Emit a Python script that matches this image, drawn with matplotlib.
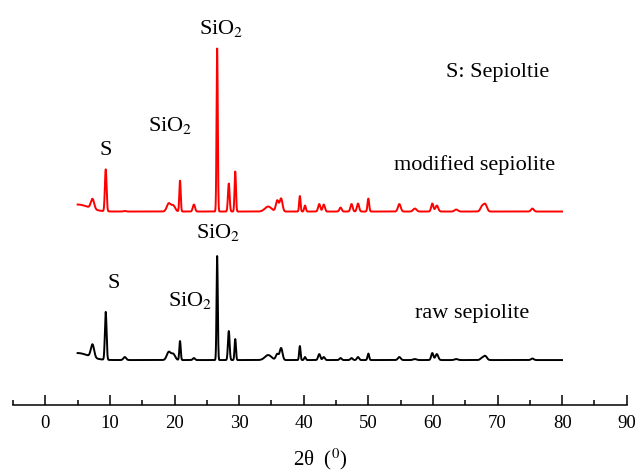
#!/usr/bin/env python3

import numpy as np
import matplotlib

matplotlib.use("Agg")
import matplotlib.pyplot as plt

plt.rcParams["font.family"] = ["Liberation Serif", "DejaVu Serif"]
plt.rcParams["mathtext.fontset"] = "stix"

# XRD reflections (2theta in degrees, shared by both samples)
peak_pos = [5.0, 7.3, 9.35, 12.3, 19.1, 19.8, 20.85, 23.0, 26.6, 28.4, 29.4,
            34.5, 35.9, 36.5, 39.4, 40.2, 42.4, 43.1, 45.7, 47.4, 48.4, 50.0,
            54.8, 57.2, 59.9, 60.6, 63.6, 67.6, 68.1, 75.4]
peak_fwhm = [4.0, 0.6, 0.3, 0.5, 0.7, 0.7, 0.25, 0.4, 0.22, 0.3, 0.25,
             1.2, 0.5, 0.5, 0.25, 0.3, 0.4, 0.4, 0.4, 0.4, 0.4, 0.3,
             0.5, 0.6, 0.4, 0.5, 0.6, 0.6, 0.6, 0.5]

# peak heights above baseline (arbitrary units)
raw_heights = [7, 13, 48, 3, 8, 6, 19, 2, 104, 29, 21,
               5, 6, 12, 14, 3, 6, 3, 2, 2, 3, 6.5,
               3, 1, 7, 6, 1, 2, 4, 1.5]
mod_heights = [7, 10, 42, 0.5, 8, 6, 31, 7, 163, 28, 40,
               5, 11, 13, 15.5, 6, 7.5, 7, 4, 7.5, 8, 13,
               7.5, 3, 8, 6, 2, 5, 7, 3]

raw_baseline = 45
mod_baseline = 193.5

two_theta = np.arange(5.0, 80.0, 0.02)


def pattern(heights, baseline):
    y = np.full_like(two_theta, baseline)
    for pos, fwhm, h in zip(peak_pos, peak_fwhm, heights):
        y += h * np.exp(-4 * np.log(2) * ((two_theta - pos) / fwhm) ** 2)
    return y


fig = plt.figure(figsize=(6.35, 4.71), dpi=100)
ax = fig.add_axes([0.0205, 0.14, 0.9665, 0.86])

ax.plot(two_theta, pattern(mod_heights, mod_baseline), color="red", lw=1.4)
ax.plot(two_theta, pattern(raw_heights, raw_baseline), color="black", lw=1.4)

fs = 16
ax.text(27.3, 377, "SiO$_2$", ha="center", va="center", fontsize=fs)
ax.text(19.4, 280, "SiO$_2$", ha="center", va="center", fontsize=fs)
ax.text(9.35, 255, "S", ha="center", va="center", fontsize=fs)
ax.text(70.0, 333, "S: Sepioltie", ha="center", va="center", fontsize=fs)
ax.text(66.5, 240, "modified sepiolite", ha="center", va="center", fontsize=fs)
ax.text(26.7, 173, "SiO$_2$", ha="center", va="center", fontsize=fs)
ax.text(10.6, 122, "S", ha="center", va="center", fontsize=fs)
ax.text(22.5, 105, "SiO$_2$", ha="center", va="center", fontsize=fs)
ax.text(66.0, 92, "raw sepiolite", ha="center", va="center", fontsize=fs)

ax.set_xlim(-5, 90)
ax.set_ylim(0, 405)
ax.set_xticks(range(0, 91, 10))
ax.set_xticks(range(-5, 91, 10), minor=True)
ax.set_yticks([])
for side in ["left", "right", "top"]:
    ax.spines[side].set_visible(False)
ax.spines["bottom"].set_linewidth(1.1)
ax.tick_params(axis="x", which="major", direction="in", length=7.5, width=1.1,
               labelsize=13.5, pad=7)
ax.tick_params(axis="x", which="minor", direction="in", length=3.5, width=1.1)
ax.set_xlabel("2θ  ($^0$)", fontsize=15, labelpad=11)

fig.savefig("out.png", dpi=100)
